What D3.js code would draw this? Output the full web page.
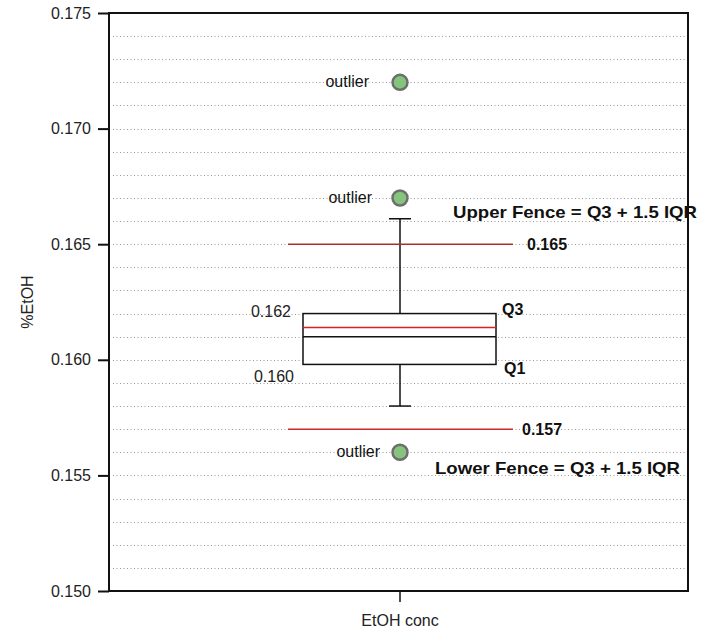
<!DOCTYPE html>
<html><head><meta charset="utf-8">
<script src="https://cdn.jsdelivr.net/npm/d3@7"></script>
<style>body{margin:0;background:#fff;}svg{display:block;font-family:"Liberation Sans",Arial,sans-serif;}</style>
</head><body>
<svg id="c" width="702" height="634"></svg>
<script>
const category = ["EtOH conc"];
const yTicks = [0.150, 0.155, 0.160, 0.165, 0.170, 0.175];
const boxStats = {q1: 0.1598, median: 0.1610, mean: 0.1614, q3: 0.1620, lowWhisker: 0.1580, highWhisker: 0.1661};
const fences = [0.165, 0.157];
const outliers = [0.172, 0.167, 0.156];
const boxLabels = ["0.162", "0.160"];

const W = 702, H = 634;
const m = {left: 109, right: 688, top: 13, bottom: 591};
const svg = d3.select("#c");
const y = d3.scaleLinear().domain([0.150, 0.175]).range([m.bottom, m.top]);
const x = d3.scaleBand().domain(category).range([m.left + 3, m.right]);
const cx = x(category[0]) + x.bandwidth() / 2;

// grid (every 0.001)
const gridVals = d3.range(151, 175).map(v => v / 1000);
svg.append("g").selectAll("line").data(gridVals).join("line")
  .attr("x1", m.left + 4).attr("x2", m.right - 2)
  .attr("y1", d => Math.round(y(d)) + 0.5).attr("y2", d => Math.round(y(d)) + 0.5)
  .attr("stroke", "#999").attr("stroke-width", 1).attr("stroke-dasharray", "1,2.5");

// frame
svg.append("rect").attr("x", m.left).attr("y", m.top)
  .attr("width", m.right - m.left).attr("height", m.bottom - m.top)
  .attr("fill", "none").attr("stroke", "#111").attr("stroke-width", 2);

// y axis
const yAxis = d3.axisLeft(y).tickValues(yTicks).tickFormat(d3.format(".3f")).tickSize(11).tickPadding(7);
const ga = svg.append("g").attr("transform", `translate(${m.left},0)`).call(yAxis);
ga.select(".domain").remove();
ga.selectAll(".tick line").attr("stroke", "#111").attr("stroke-width", 2);
ga.selectAll(".tick text").attr("font-size", 16).attr("fill", "#222").attr("font-family", "Liberation Sans, Arial, sans-serif");

// x axis
const xAxis = d3.axisBottom(x).tickSize(11).tickPadding(13);
const gx = svg.append("g").attr("transform", `translate(0,${m.bottom})`).call(xAxis);
gx.select(".domain").remove();
gx.selectAll(".tick line").attr("stroke", "#111").attr("stroke-width", 1.5);
gx.selectAll(".tick text").attr("font-size", 16).attr("fill", "#222").attr("font-family", "Liberation Sans, Arial, sans-serif");

// y label
svg.append("text").attr("transform", `translate(33,${(m.top + m.bottom) / 2}) rotate(-90)`)
  .attr("text-anchor", "middle").attr("font-size", 16).attr("fill", "#222").text("%EtOH");

// box
const boxL = 303, boxR = 496;
const capHalf = 11;
const wl = svg.append("g").attr("stroke", "#111").attr("stroke-width", 1.5);
wl.append("line").attr("x1", cx).attr("x2", cx).attr("y1", y(boxStats.highWhisker)).attr("y2", y(boxStats.q3));
wl.append("line").attr("x1", cx).attr("x2", cx).attr("y1", y(boxStats.q1)).attr("y2", y(boxStats.lowWhisker));
wl.append("line").attr("x1", cx - capHalf).attr("x2", cx + capHalf).attr("y1", y(boxStats.highWhisker)).attr("y2", y(boxStats.highWhisker));
wl.append("line").attr("x1", cx - capHalf).attr("x2", cx + capHalf).attr("y1", y(boxStats.lowWhisker)).attr("y2", y(boxStats.lowWhisker));
svg.append("rect").attr("x", boxL).attr("y", y(boxStats.q3)).attr("width", boxR - boxL)
  .attr("height", y(boxStats.q1) - y(boxStats.q3)).attr("fill", "#fff").attr("stroke", "#111").attr("stroke-width", 1.5);
svg.append("line").attr("x1", boxL).attr("x2", boxR).attr("y1", y(boxStats.median)).attr("y2", y(boxStats.median))
  .attr("stroke", "#111").attr("stroke-width", 1.5);
svg.append("line").attr("x1", boxL).attr("x2", boxR).attr("y1", y(boxStats.mean)).attr("y2", y(boxStats.mean))
  .attr("stroke", "#e02020").attr("stroke-width", 1.5);

// fences
const fenceColors = ["#a8322a", "#d02828"];
svg.append("g").selectAll("line").data(fences).join("line")
  .attr("x1", 288).attr("x2", 513).attr("y1", d => y(d)).attr("y2", d => y(d))
  .attr("stroke", (d, i) => fenceColors[i]).attr("stroke-width", 1.5);
svg.append("g").selectAll("text").data(fences).join("text")
  .attr("x", (d, i) => i === 0 ? 527 : 522).attr("y", d => y(d) + 6)
  .attr("font-size", 16).attr("font-weight", "bold").attr("fill", "#111")
  .text(d => d3.format(".3f")(d));

// outliers
svg.append("g").selectAll("circle").data(outliers).join("circle")
  .attr("cx", cx).attr("cy", d => y(d)).attr("r", 7.5)
  .attr("fill", "#84c47d").attr("stroke", "#6e6e6e").attr("stroke-width", 2.5);
const outlierLabelX = [369, 372, 380];
svg.append("g").selectAll("text").data(outliers).join("text")
  .attr("x", (d, i) => outlierLabelX[i]).attr("y", d => y(d) + 5).attr("text-anchor", "end")
  .attr("font-size", 16).attr("fill", "#111").text("outlier");

// box value labels
svg.append("text").attr("x", 291).attr("y", y(boxStats.q3) + 3).attr("text-anchor", "end")
  .attr("font-size", 16).attr("fill", "#222").text(boxLabels[0]);
svg.append("text").attr("x", 294).attr("y", y(boxStats.q1) + 18).attr("text-anchor", "end")
  .attr("font-size", 16).attr("fill", "#222").text(boxLabels[1]);
svg.append("text").attr("x", 502).attr("y", y(boxStats.q3) + 1).attr("font-size", 16).attr("font-weight", "bold").attr("fill", "#111").text("Q3");
svg.append("text").attr("x", 504).attr("y", y(boxStats.q1) + 10).attr("font-size", 16).attr("font-weight", "bold").attr("fill", "#111").text("Q1");

// fence annotations
svg.append("text").attr("x", 453).attr("y", 218).attr("font-size", 17).attr("font-weight", "bold")
  .attr("fill", "#111").attr("textLength", 244).attr("lengthAdjust", "spacingAndGlyphs").text("Upper Fence = Q3 + 1.5 IQR");
svg.append("text").attr("x", 435).attr("y", 474).attr("font-size", 17).attr("font-weight", "bold")
  .attr("fill", "#111").attr("textLength", 245).attr("lengthAdjust", "spacingAndGlyphs").text("Lower Fence = Q3 + 1.5 IQR");
</script>
</body></html>
